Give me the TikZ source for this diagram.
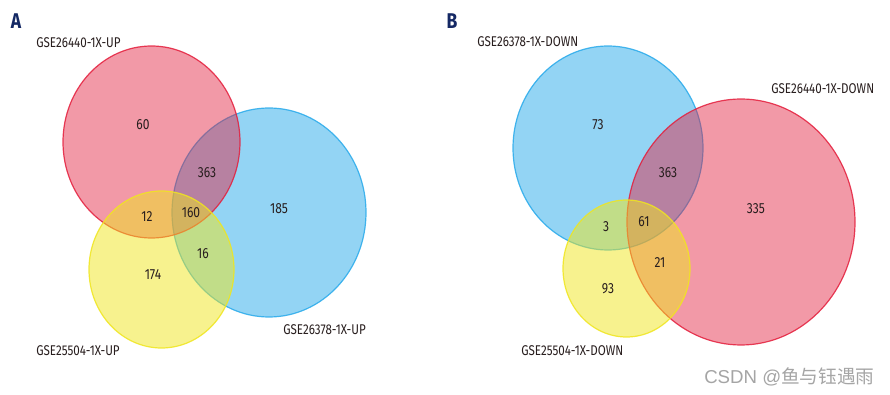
\documentclass[tikz,border=0pt]{standalone}
\usepackage{fontspec}
\setmainfont[FakeStretch=0.82]{Fira Sans}
\newfontfamily\wmlatin{Liberation Sans}
\newfontfamily\wmcjk{Noto Sans CJK SC}
\definecolor{cred}{RGB}{228,30,60}
\definecolor{cblue}{RGB}{40,170,235}
\definecolor{cyel}{RGB}{240,230,30}
\definecolor{cnavy}{RGB}{20,40,100}
\definecolor{ctxt}{RGB}{40,30,30}
\begin{document}
\begin{tikzpicture}[x=0.75pt,y=-0.75pt,
  setred/.style={fill=cred,fill opacity=0.45,draw=cred,draw opacity=0.85,line width=0.9pt},
  setblue/.style={fill=cblue,fill opacity=0.5,draw=cblue,draw opacity=0.85,line width=0.9pt},
  setyel/.style={fill=cyel,fill opacity=0.5,draw=cyel,draw opacity=0.85,line width=0.9pt},
  num/.style={font=\fontsize{11pt}{12pt}\selectfont,text=ctxt,inner sep=0pt},
  setlab/.style={font=\fontsize{10.6pt}{11pt}\selectfont,text=ctxt,inner sep=0pt},
  panel/.style={font=\fontsize{16pt}{17pt}\selectfont\bfseries,text=cnavy,inner sep=0pt}]
\useasboundingbox (0,0) rectangle (890,395);
\fill[white] (0,0) rectangle (890,395);
% Panel A
\path[setblue] (269,212.5) ellipse [x radius=97, y radius=104.5];
\path[setred] (151.5,142) ellipse [x radius=88.5, y radius=96];
\path[setyel] (161.5,269.5) ellipse [x radius=72.5, y radius=78.5];
\node[panel] (pA) at (16,21) {A};
\node[setlab,anchor=west] (lA1) at (36,43) {GSE26440-1X-UP};
\node[setlab,anchor=west] (lA2) at (283,330) {GSE26378-1X-UP};
\node[setlab,anchor=west] (lA3) at (36,351) {GSE25504-1X-UP};
\node[num] (nA1) at (143,125) {60};
\node[num] (nA2) at (207,173) {363};
\node[num] (nA3) at (279,209) {185};
\node[num] (nA4) at (147,217) {12};
\node[num] (nA5) at (191,213) {160};
\node[num] (nA6) at (203,254) {16};
\node[num] (nA7) at (153,275) {174};
% Panel B
\path[setblue] (608,148) ellipse [x radius=95, y radius=102];
\path[setred] (741,222) ellipse [x radius=114, y radius=123];
\path[setyel] (626.5,268.5) ellipse [x radius=63.5, y radius=68.5];
\node[panel] (pB) at (452,21) {B};
\node[setlab,anchor=west] (lB1) at (477,42) {GSE26378-1X-DOWN};
\node[setlab,anchor=west] (lB2) at (771,89) {GSE26440-1X-DOWN};
\node[setlab,anchor=west] (lB3) at (521,351) {GSE25504-1X-DOWN};
\node[num] (nB1) at (598,125) {73};
\node[num] (nB2) at (668,173) {363};
\node[num] (nB3) at (756,209) {335};
\node[num] (nB4) at (606,227) {3};
\node[num] (nB5) at (644,222) {61};
\node[num] (nB6) at (660,263) {21};
\node[num] (nB7) at (608,289) {93};
% watermark
\node[anchor=west,inner sep=0pt,text={rgb,255:red,165;green,165;blue,165},font=\fontsize{14pt}{15pt}\selectfont] (wm) at (704,377) {\wmlatin CSDN @\wmcjk 鱼与钰遇雨};
\end{tikzpicture}
\end{document}
